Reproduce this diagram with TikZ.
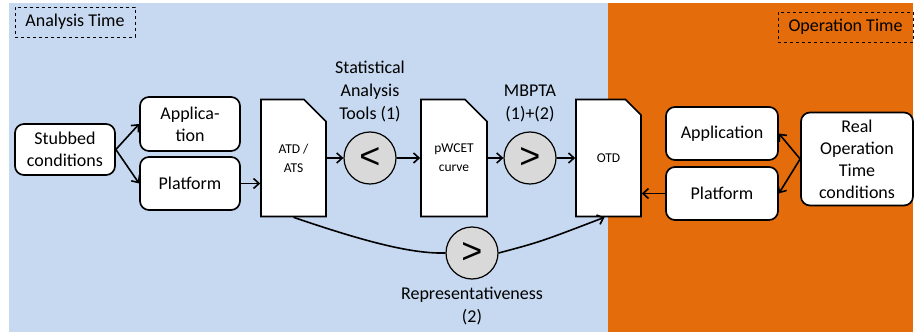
\documentclass[tikz,border=0pt]{standalone}
\usepackage{fontspec}
\setmainfont{Carlito}
\newfontfamily\cmpfont{Liberation Sans}
\usetikzlibrary{arrows.meta, shapes.misc, positioning}

\definecolor{anablue}{RGB}{198,217,241}
\definecolor{oporange}{RGB}{228,108,10}
\definecolor{cmpgray}{RGB}{217,217,217}

\tikzset{
  box/.style={draw, line width=1.7pt, rounded corners=9pt, fill=white, align=center,
    font=\fontsize{18}{22}\selectfont, inner sep=2pt},
  docbox/.style={chamfered rectangle, chamfered rectangle corners=north east,
    chamfered rectangle xsep=11pt, chamfered rectangle ysep=11pt, draw, line width=1.6pt,
    fill=white, align=center, font=\fontsize{13.5}{19}\selectfont,
    minimum width=65pt, minimum height=117pt, inner sep=0pt},
  cmp/.style={circle, draw, line width=1.2pt, fill=cmpgray, minimum size=52pt,
    inner sep=0pt, font=\cmpfont\fontsize{36}{36}\selectfont},
  lbl/.style={align=center, font=\fontsize{18}{23}\selectfont},
  tag/.style={draw, dashed, line width=0.6pt, font=\fontsize{18}{22}\selectfont,
    minimum height=30pt, inner sep=2pt},
  arr/.style={-{Straight Barb[length=5.5pt,width=10pt]}, line width=1.6pt}
}

\begin{document}
\begin{tikzpicture}[x=1pt,y=-1pt]
  \useasboundingbox (0,0) rectangle (915,334);

  % Phases
  \fill[anablue] (9,3) rectangle (608,332);
  \fill[oporange] (608,3) rectangle (913,332);
  \node[tag, minimum width=120pt] (antime) at (75,22) {Analysis Time};
  \node[tag, minimum width=135pt] (optime) at (845.5,27) {Operation Time};

  % Analysis side
  \node[box, minimum width=100pt, minimum height=51pt] (stub) at (65,149.5) {Stubbed\\conditions};
  \node[box, minimum width=100pt, minimum height=54pt] (appl) at (190,124) {Applica-\\tion};
  \node[box, minimum width=100pt, minimum height=53pt] (platl) at (190,183.5) {Platform};

  % Documents and comparisons
  \node[docbox] (atd) at (293.5,158) {ATD /\\ATS};
  \node[cmp] (lt) at (370,158) {<};
  \node[docbox, minimum width=66pt] (pwcet) at (454,158) {pWCET\\curve};
  \node[cmp] (gt1) at (530,158) {>};
  \node[docbox] (otd) at (608.5,158) {OTD};
  \node[cmp] (gt2) at (472,253) {>};

  \node[lbl] (stattools) at (370,91) {Statistical\\Analysis\\Tools (1)};
  \node[lbl] (mbpta) at (530,103) {MBPTA\\(1)+(2)};
  \node[lbl] (repr) at (472,306) {Representativeness\\(2)};

  % Operation side
  \node[box, minimum width=112pt, minimum height=53pt] (appr) at (722,133.5) {Application};
  \node[box, minimum width=112pt, minimum height=53pt] (platr) at (722,193.5) {Platform};
  \node[box, minimum width=112pt, minimum height=93pt] (real) at (857,159) {Real\\Operation\\Time\\conditions};

  % Connections
  \draw[arr] (stub.east) -- (appl.west);
  \draw[arr] (stub.east) -- (platl.west);
  \draw[arr] (platl.east) -- (platl.east -| atd.west);
  \foreach \a/\b in {atd/lt, lt/pwcet, pwcet/gt1, gt1/otd} {
    \draw[arr] (\a) -- (\b);
  }
  \draw[arr] (real.west) -- (appr.east);
  \draw[arr] (real.west) -- (platr.east);
  \draw[arr] (platr.west) -- (platr.west -| otd.east);

  % Representativeness path
  \draw[line width=1.6pt] (atd.south) .. controls (360,240) and (410,254) .. (gt2.west);
  \draw[arr] (gt2.east) .. controls (540,242) .. ([xshift=-4pt]otd.south);
\end{tikzpicture}
\end{document}
